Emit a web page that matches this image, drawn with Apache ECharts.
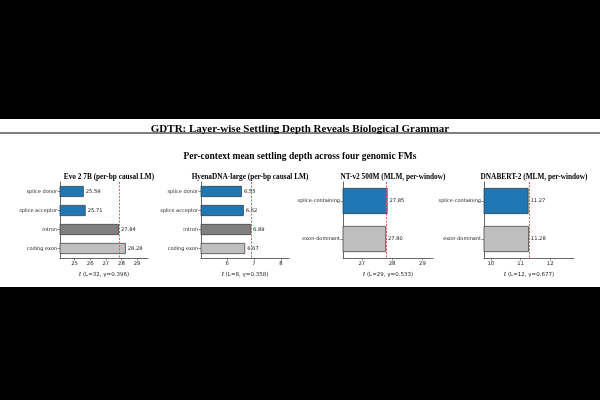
<!DOCTYPE html>
<html>
<head>
<meta charset="utf-8">
<script src="https://cdn.jsdelivr.net/npm/echarts@6/dist/echarts.min.js"></script>
<style>
  html, body { margin: 0; padding: 0; background: #000; }
  #main { width: 600px; height: 400px; }
</style>
</head>
<body>
<div id="main"></div>
<script>
// panel data
const evoCats = ['splice donor', 'splice acceptor', 'intron', 'coding exon']
const evoVals = [25.59, 25.71, 27.84, 28.28]
const hyenaCats = ['splice donor', 'splice acceptor', 'intron', 'coding exon']
const hyenaVals = [6.55, 6.62, 6.89, 6.67]
const ntCats = ['splice-containing', 'exon-dominant']
const ntVals = [27.85, 27.80]
const bertCats = ['splice-containing', 'exon-dominant']
const bertVals = [11.27, 11.28]

const panelTitles = ['Evo 2 7B (per-bp causal LM)', 'HyenaDNA-large (per-bp causal LM)', 'NT-v2 500M (MLM, per-window)', 'DNABERT-2 (MLM, per-window)']
const axisNames = ['ℓ̄ (L=32, γ=0.396)', 'ℓ̄ (L=8, γ=0.358)', 'ℓ̄ (L=29, γ=0.533)', 'ℓ̄ (L=12, γ=0.677)']
const refLines = [27.83, 6.89, 27.82, 11.28]
const xTicks = [[25, 26, 27, 28, 29], [6, 7, 8], [27, 28, 29], [10, 11, 12]]
const xRanges = [[24.07, 29.7], [5.03, 8.3], [26.38, 29.35], [9.77, 12.8]]

const colors4 = ['#1f77b4', '#1f77b4', '#7f7f7f', '#bfbfbf']
const colors2 = ['#1f77b4', '#bfbfbf']

const chart = echarts.init(document.getElementById('main'), null, { renderer: 'canvas' })

const lefts = [60, 201, 343, 484]
const widths = [88, 88, 90, 90]
const cats = [evoCats, hyenaCats, ntCats, bertCats]
const vals = [evoVals, hyenaVals, ntVals, bertVals]

const grids = [], xAxes = [], yAxes = [], series = [], titles = []

titles.push({
  text: 'GDTR: Layer-wise Settling Depth Reveals Biological Grammar',
  left: 'center', top: 119,
  textStyle: { fontFamily: 'Liberation Serif', fontWeight: 'bold', fontSize: 11, color: '#000' }
})
titles.push({
  text: 'Per-context mean settling depth across four genomic FMs',
  left: 'center', top: 147,
  textStyle: { fontFamily: 'Liberation Serif', fontWeight: 'bold', fontSize: 9.5, color: '#000' }
})

for (let i = 0; i < 4; i++) {
  grids.push({ left: lefts[i], top: 182, width: widths[i], height: 76 })
  titles.push({
    text: panelTitles[i],
    left: lefts[i] + widths[i] / 2, top: 169, textAlign: 'center',
    textStyle: { fontFamily: 'Liberation Serif', fontWeight: 'bold', fontSize: 7.3, color: '#000' }
  })
  xAxes.push({
    type: 'value', gridIndex: i,
    min: xRanges[i][0], max: xRanges[i][1],
    name: axisNames[i], nameLocation: 'middle', nameGap: 14,
    nameTextStyle: { fontFamily: 'DejaVu Sans', fontSize: 5.5, color: '#222' },
    axisLine: { show: true, lineStyle: { color: '#444', width: 0.8 } },
    axisTick: { show: true, length: 2.5, customValues: xTicks[i], lineStyle: { color: '#444', width: 0.6 } },
    axisLabel: { customValues: xTicks[i], fontFamily: 'DejaVu Sans', fontSize: 5.3, color: '#222', margin: 3 },
    splitLine: { show: false }
  })
  yAxes.push({
    type: 'category', gridIndex: i, data: cats[i], inverse: true,
    axisLine: { show: true, lineStyle: { color: '#444', width: 0.8 } },
    axisTick: { show: true, alignWithLabel: true, length: 2.5, lineStyle: { color: '#444', width: 0.6 } },
    axisLabel: { fontFamily: 'DejaVu Sans', fontSize: 5, color: '#222', margin: 3 },
    splitLine: { show: false }
  })
  const palette = cats[i].length === 4 ? colors4 : colors2
  series.push({
    type: 'bar', xAxisIndex: i, yAxisIndex: i,
    barWidth: cats[i].length === 4 ? 11 : 26,
    data: vals[i].map((v, k) => ({
      value: v,
      itemStyle: { color: palette[k], borderColor: '#333', borderWidth: 0.7 }
    })),
    label: {
      show: true, position: 'right', distance: 2,
      fontFamily: 'DejaVu Sans', fontSize: 5.2, color: '#222',
      formatter: p => p.value.toFixed(2)
    },
    markLine: {
      silent: true, symbol: 'none', z: 5,
      label: { show: false },
      lineStyle: { color: '#e8575a', type: [2, 1.5], width: 1 },
      data: [{ xAxis: refLines[i] }]
    }
  })
}

chart.setOption({
  animation: false,
  backgroundColor: 'transparent',
  title: titles,
  grid: grids,
  xAxis: xAxes,
  yAxis: yAxes,
  series: series,
  graphic: [
    { type: 'rect', z: -10, shape: { x: 0, y: 119, width: 600, height: 168 }, style: { fill: '#fff' } },
    { type: 'line', z: 10, shape: { x1: 0, y1: 133, x2: 600, y2: 133 }, style: { stroke: '#000', lineWidth: 1.2 } }
  ]
})
</script>
</body>
</html>
